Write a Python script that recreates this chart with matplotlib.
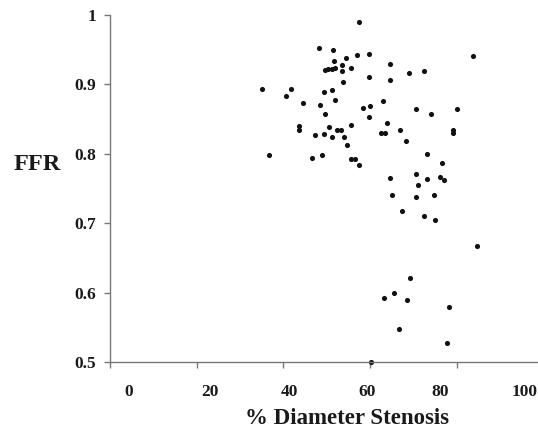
import matplotlib
matplotlib.use("Agg")  # headless
import matplotlib.pyplot as plt

# % diameter stenosis vs FFR
stenosis = [57.5, 48.1, 51.5, 59.7, 56.9, 54.4, 83.7, 51.7, 64.6, 53.6,
            49.6, 50.4, 51.2, 52.0, 55.5, 53.5, 68.9, 72.5, 59.7, 64.7,
            53.7, 35.1, 41.7, 40.7, 51.3, 49.3, 44.5, 52.0, 48.5, 63.0,
            58.4, 60.0, 70.6, 80.0, 49.5, 74.1, 59.7, 63.8, 55.5, 43.6,
            43.6, 50.5, 67.0, 52.3, 53.2, 79.2, 79.2, 62.5, 63.5, 49.3,
            47.2, 51.3, 53.9, 68.3, 54.7, 46.7, 48.8, 36.7, 55.7, 56.5,
            57.5, 73.2, 76.6, 70.7, 73.2, 64.6, 76.2, 77.0, 71.1, 65.0,
            70.7, 74.8, 67.4, 72.4, 75.0, 84.6, 69.3, 65.4, 63.1, 68.6,
            78.1, 66.6, 77.8, 60.2]
ffr = [0.990, 0.952, 0.949, 0.944, 0.943, 0.938, 0.941, 0.934, 0.930, 0.928,
       0.921, 0.922, 0.922, 0.923, 0.923, 0.919, 0.917, 0.920, 0.911, 0.907,
       0.903, 0.894, 0.894, 0.884, 0.892, 0.889, 0.873, 0.877, 0.870, 0.876,
       0.866, 0.869, 0.864, 0.865, 0.858, 0.857, 0.853, 0.845, 0.842, 0.840,
       0.834, 0.838, 0.835, 0.834, 0.835, 0.835, 0.830, 0.830, 0.830, 0.828,
       0.827, 0.824, 0.824, 0.818, 0.813, 0.794, 0.798, 0.798, 0.792, 0.792,
       0.784, 0.799, 0.787, 0.771, 0.764, 0.765, 0.766, 0.762, 0.755, 0.740,
       0.738, 0.741, 0.718, 0.710, 0.705, 0.667, 0.621, 0.600, 0.592, 0.589,
       0.579, 0.547, 0.527, 0.500]

y_ticks = [0.5, 0.6, 0.7, 0.8, 0.9, 1.0]
y_labels = ["0.5", "0.6", "0.7", "0.8", "0.9", "1"]
x_tick_marks = [0, 20, 40, 60, 80]
# label spots drift right of the tick marks in the scan
x_label_pos = [4.4, 23.1, 41.3, 59.4, 76.1, 95.7]
x_labels = ["0", "20", "40", "60", "80", "100"]

plt.rcParams["font.family"] = ["Liberation Serif", "DejaVu Serif"]
plt.rcParams["font.weight"] = "bold"

fig = plt.figure(figsize=(5.38, 4.32), dpi=100)
ax = fig.add_axes([110 / 538, 1 - 362 / 432, (537 - 110) / 538, (362 - 15) / 432])

ax.plot(stenosis, ffr, "o", color="#111111", markersize=3.7, markeredgewidth=0,
        clip_on=False)

ax.set_xlim(0, 98.5)
ax.set_ylim(0.5, 1.0)

for side in ["top", "right"]:
    ax.spines[side].set_visible(False)
for side in ["left", "bottom"]:
    ax.spines[side].set_color("#777777")
    ax.spines[side].set_linewidth(1.0)

ax.set_yticks(y_ticks)
ax.set_yticklabels(y_labels)
ax.tick_params(axis="y", direction="out", length=4, width=1, color="#777777",
               pad=6, labelsize=12.5, labelcolor="#1a1a1a")

ax.set_xticks(x_label_pos)
ax.set_xticklabels(x_labels)
ax.set_xticks(x_tick_marks, minor=True)
ax.tick_params(axis="x", which="major", length=0, pad=16, labelsize=12.5,
               labelcolor="#1a1a1a")
ax.tick_params(axis="x", which="minor", direction="out", length=4, width=1,
               color="#777777")

fig.text(37 / 538, 1 - 164 / 432, "FFR", ha="center", va="center",
         fontsize=17.5, fontweight="bold", color="#1a1a1a")
fig.text(347 / 538, 1 - 418 / 432, "% Diameter Stenosis", ha="center",
         va="center", fontsize=16.5, fontweight="bold", color="#1a1a1a")

fig.savefig("out.png", dpi=100)
